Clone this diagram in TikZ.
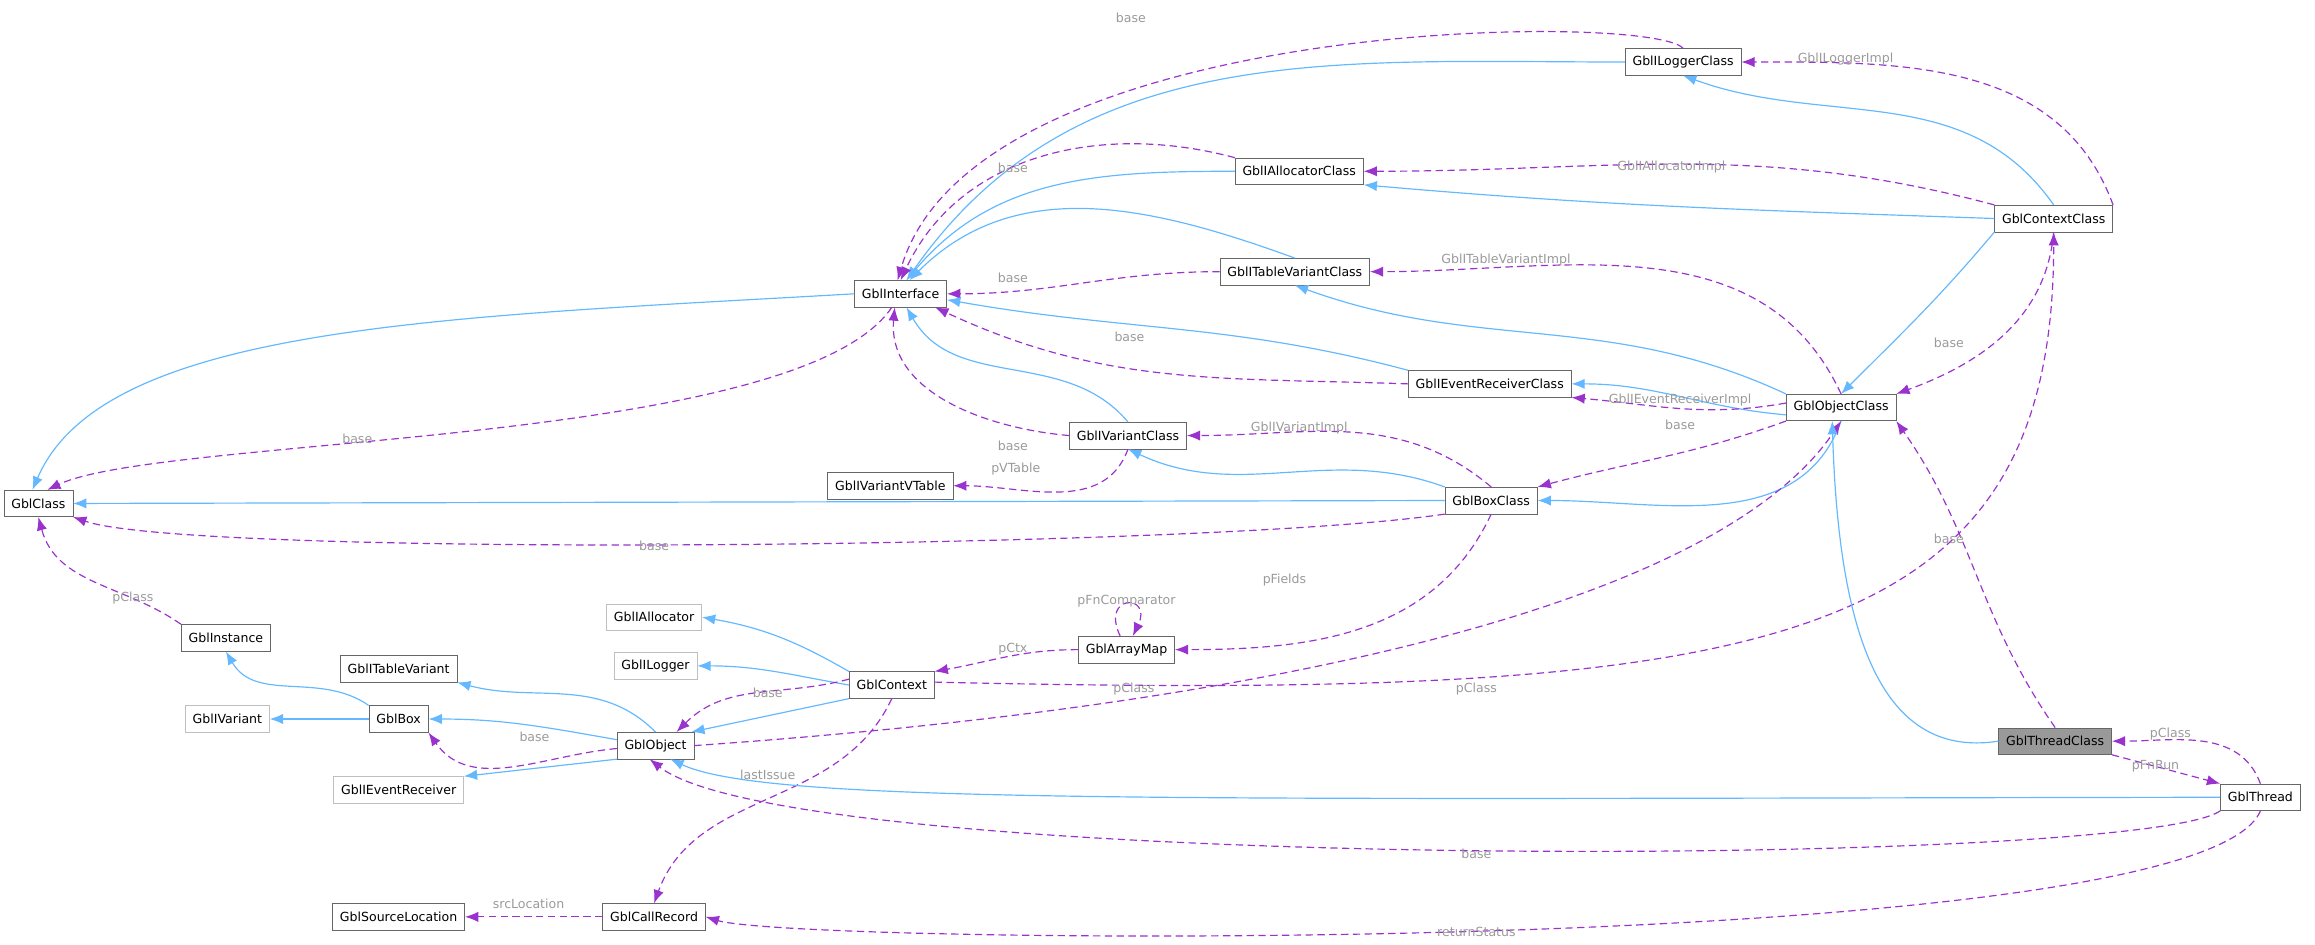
\documentclass[tikz,border=0pt]{standalone}
\usepackage{fontspec}
\setmainfont{DejaVu Sans}
\usepackage{tikz}
\usetikzlibrary{arrows.meta,calc}
\definecolor{inhblue}{HTML}{63B8FF}
\definecolor{usepurple}{HTML}{9A32CD}
\definecolor{lblgray}{HTML}{9A9A9A}
\begin{document}
\begin{tikzpicture}[x=1pt,y=-1pt,font=\fontsize{8.5}{10}\selectfont,
  cls/.style={draw=black!60,fill=white,minimum height=18pt,inner xsep=5pt,inner ysep=2pt},
  ext/.style={cls,draw=black!25},
  inh/.style={draw=inhblue,line width=0.8pt,-{Latex[length=9pt,width=7pt]}},
  dep/.style={draw=usepurple,line width=0.8pt,dash pattern=on 5pt off 3pt,-{Latex[length=9pt,width=7pt]}},
  lbl/.style={text=lblgray,inner sep=1pt}]
\useasboundingbox (0,0) rectangle (1568,640);

% class nodes
\node[cls] (ilogcls) at (1140,42) {GblILoggerClass};
\node[cls] (iallcls) at (880,116) {GblIAllocatorClass};
\node[cls] (ctxcls) at (1391,148) {GblContextClass};
\node[cls] (itvcls) at (877,184) {GblITableVariantClass};
\node[cls] (iface) at (610,199) {GblInterface};
\node[cls] (ievcls) at (1009,260) {GblIEventReceiverClass};
\node[cls] (objcls) at (1247,276) {GblObjectClass};
\node[cls] (ivcls) at (764,295) {GblIVariantClass};
\node[cls] (ivvt) at (603,329) {GblIVariantVTable};
\node[cls] (gcls) at (26,341) {GblClass};
\node[cls] (boxcls) at (1010,339) {GblBoxClass};
\node[cls] (amap) at (763,440) {GblArrayMap};
\node[cls] (inst) at (153,432) {GblInstance};
\node[ext] (iall) at (443,418) {GblIAllocator};
\node[ext] (ilog) at (444,451) {GblILogger};
\node[cls] (ctx) at (604,464) {GblContext};
\node[cls] (itv) at (270,453) {GblITableVariant};
\node[ext] (ivar) at (154,487) {GblIVariant};
\node[cls] (box) at (270,487) {GblBox};
\node[cls] (obj) at (444,505) {GblObject};
\node[ext] (iev) at (270,535) {GblIEventReceiver};
\node[cls,fill=black!40] (thrcls) at (1392,502) {GblThreadClass};
\node[cls] (thr) at (1531,540) {GblThread};
\node[cls] (srcloc) at (270,621) {GblSourceLocation};
\node[cls] (crec) at (443,621) {GblCallRecord};

% interface classes
\draw[inh] (ilogcls.west) to[out=180,in=55] ([xshift=4]iface.north);
\draw[dep] (ilogcls.north) .. controls (1120,8) and (660,10) .. ([xshift=-2]iface.north);
\draw[inh] (iallcls.west) to[out=180,in=50] ([xshift=4]iface.north);
\draw[dep] (iallcls.north west) to[out=165,in=65] ([xshift=0]iface.north);
\draw[inh] (itvcls.north) to[out=160,in=45] ([xshift=6]iface.north);
\draw[dep] (itvcls.west) to[out=180,in=0] (iface.east);
\draw[inh] (ievcls.north west) to[out=165,in=-10] ([yshift=-4]iface.east);
\draw[dep] (ievcls.west) to[out=178,in=-25] ([xshift=-8]iface.south east);
\draw[inh] (ivcls.north) to[out=130,in=-60] ([xshift=4]iface.south);
\draw[dep] (ivcls.west) to[out=175,in=-95] ([xshift=-4]iface.south);
\draw[dep] (ivcls.south) to[out=-110,in=0] (ivvt.east);
\draw[inh] (iface.west) .. controls (300,215) and (70,220) .. ([xshift=-4]gcls.north);
\draw[dep] ([xshift=-6]iface.south) .. controls (540,303) and (110,295) .. ([xshift=6]gcls.north);

% context class
\draw[inh] (ctxcls.north) to[out=125,in=-20] (ilogcls.south);
\draw[dep] (ctxcls.north east) to[out=110,in=0] (ilogcls.east);
\draw[inh] (ctxcls.west) to[out=178,in=-5] (iallcls.south east);
\draw[dep] (ctxcls.north west) to[out=165,in=0] (iallcls.east);
\draw[inh] (ctxcls.south west) to[out=-130,in=45] (objcls.north);
\draw[dep] (ctxcls.south) to[out=-95,in=20] (objcls.north east);

% object class
\draw[inh] (objcls.north west) to[out=155,in=-20] (itvcls.south);
\draw[dep] (objcls.north) to[out=115,in=0] (itvcls.east);
\draw[inh] ([yshift=-5]objcls.west) to[out=175,in=0] (ievcls.east);
\draw[dep] ([yshift=3]objcls.west) to[out=190,in=-5] (ievcls.south east);
\draw[inh] (objcls.south) to[out=-110,in=0] (boxcls.east);
\draw[dep] (objcls.south west) to[out=200,in=15] (boxcls.north east);

% box class
\draw[inh] (boxcls.north west) to[out=160,in=-25] (ivcls.south);
\draw[dep] (boxcls.north) to[out=140,in=0] (ivcls.east);
\draw[inh] (boxcls.west) -- (gcls.east);
\draw[dep] (boxcls.south west) .. controls (820,372) and (130,378) .. (gcls.south east);
\draw[dep] (boxcls.south) to[out=-115,in=0] (amap.east);
\draw[dep] (amap.115) .. controls (745,402) and (781,402) .. (amap.65);
\draw[dep] (amap.west) to[out=180,in=10] (ctx.north east);

% instances
\draw[dep] (inst.north west) to[out=145,in=-75] (gcls.south);
\draw[inh] (box.north west) to[out=145,in=-60] (inst.south);
\draw[inh] (box.west) -- (ivar.east);
\draw[inh] (obj.north) to[out=135,in=-15] (itv.south east);
\draw[inh] ([yshift=4]obj.west) to[out=170,in=0] (box.east);
\draw[dep] ([yshift=-2]obj.west) to[out=185,in=-55] (box.south east);
\draw[inh] (obj.south west) -- (iev.north east);
\draw[inh] (ctx.north west) to[out=150,in=-10] (iall.east);
\draw[inh] (ctx.west) to[out=170,in=0] (ilog.east);
\draw[inh] (ctx.south west) -- ([xshift=-2]obj.north east);
\draw[dep] ([yshift=4]ctx.west) to[out=195,in=45] ([xshift=-12]obj.north east);
\draw[dep] (ctx.south) to[out=-115,in=70] (crec.north);
\draw[dep] (obj.east) .. controls (900,475) and (1170,400) .. (objcls.south);
\draw[dep] ([yshift=2]ctx.east) .. controls (1200,475) and (1391,440) .. (ctxcls.south);

% thread
\draw[inh] (thrcls.west) .. controls (1270,515) and (1245,420) .. ([xshift=-6]objcls.south);
\draw[dep] (thrcls.north) to[out=125,in=-55] (objcls.south east);
\draw[dep] (thr.north) to[out=110,in=0] (thrcls.east);
\draw[dep] (thrcls.south east) to[out=-15,in=165] (thr.north west);
\draw[inh] (thr.west) .. controls (800,541) and (520,545) .. ([xshift=10]obj.south);
\draw[dep] (thr.south west) .. controls (1450,588) and (540,592) .. ([xshift=-4]obj.south);
\draw[dep] (thr.south) .. controls (1490,650) and (540,640) .. (crec.east);
\draw[dep] (crec.west) -- (srcloc.east);

% labels
\node[lbl] at (766,12) {base};
\node[lbl] at (1250,40) {GblILoggerImpl};
\node[lbl] at (686,114) {base};
\node[lbl] at (1132,113) {GblIAllocatorImpl};
\node[lbl] at (686,188) {base};
\node[lbl] at (1020,176) {GblITableVariantImpl};
\node[lbl] at (765,228) {base};
\node[lbl] at (1320,232) {base};
\node[lbl] at (242,297) {base};
\node[lbl] at (1138,271) {GblIEventReceiverImpl};
\node[lbl] at (1138,288) {base};
\node[lbl] at (880,290) {GblIVariantImpl};
\node[lbl] at (686,302) {base};
\node[lbl] at (688,318) {pVTable};
\node[lbl] at (443,370) {base};
\node[lbl] at (870,393) {pFields};
\node[lbl] at (1320,365) {base};
\node[lbl] at (763,407) {pFnComparator};
\node[lbl] at (90,405) {pClass};
\node[lbl] at (686,440) {pCtx};
\node[lbl] at (520,469) {base};
\node[lbl] at (768,467) {pClass};
\node[lbl] at (1000,467) {pClass};
\node[lbl] at (362,499) {base};
\node[lbl] at (1470,497) {pClass};
\node[lbl] at (1460,519) {pFnRun};
\node[lbl] at (520,525) {lastIssue};
\node[lbl] at (1000,578) {base};
\node[lbl] at (358,612) {srcLocation};
\node[lbl] at (1000,631) {returnStatus};
\end{tikzpicture}
\end{document}
